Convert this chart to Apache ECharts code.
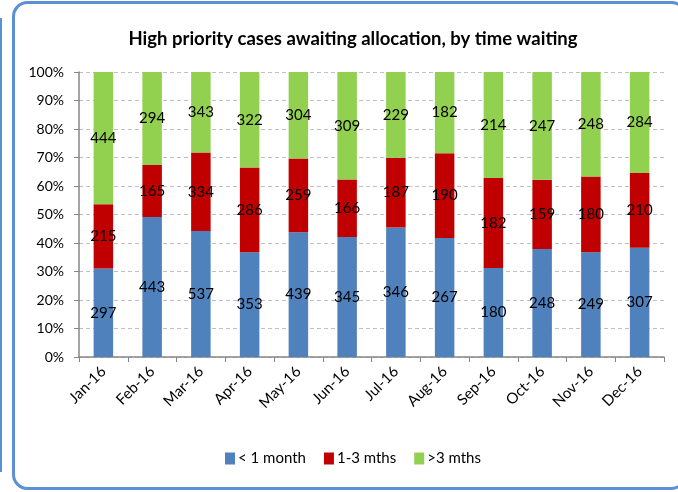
<!DOCTYPE html>
<html>
<head>
<meta charset="utf-8">
<script src="https://cdn.jsdelivr.net/npm/echarts@6/dist/echarts.min.js"></script>
<style>html,body{margin:0;padding:0;background:#fff;}#c{width:678px;height:492px;}</style>
</head>
<body>
<div id="c"></div>
<script>
const categories = ['Jan-16','Feb-16','Mar-16','Apr-16','May-16','Jun-16','Jul-16','Aug-16','Sep-16','Oct-16','Nov-16','Dec-16'];
const lessThan1Month = [297,443,537,353,439,345,346,267,180,248,249,307];
const oneToThreeMonths = [215,165,334,286,259,166,187,190,182,159,180,210];
const moreThan3Months = [444,294,343,322,304,309,229,182,214,247,248,284];
const seriesNames = ['< 1 month','1-3 mths','>3 mths'];
const seriesColors = ['#4F81BD','#C00000','#92D050'];
const yTicks = [0,0.1,0.2,0.3,0.4,0.5,0.6,0.7,0.8,0.9,1];

const raw = [lessThan1Month, oneToThreeMonths, moreThan3Months];
const totals = categories.map((_, i) => raw.reduce((s, a) => s + a[i], 0));
const FONT = 'Lato';

const chart = echarts.init(document.getElementById('c'), null, {renderer: 'canvas'});
chart.setOption({
  animation: false,
  backgroundColor: '#fff',
  title: {
    text: 'High priority cases awaiting allocation, by time waiting',
    left: 348, textAlign: 'center', top: 25,
    textStyle: {fontFamily: FONT, fontSize: 18.5, fontWeight: 'bold', color: '#000'}
  },
  legend: {
    bottom: 21, left: 220,
    itemWidth: 10, itemHeight: 12, itemGap: 18,
    icon: 'rect',
    textStyle: {fontFamily: FONT, fontSize: 15, color: '#000', padding: [0, 0, 0, -2]},
    data: seriesNames
  },
  grid: {left: 79, right: 14, top: 72, bottom: 135, containLabel: false},
  xAxis: {
    type: 'category', data: categories,
    axisLine: {lineStyle: {color: '#868686', width: 1.5}},
    axisTick: {show: true, length: 5, lineStyle: {color: '#868686'}},
    axisLabel: {rotate: 45, fontFamily: FONT, fontSize: 15, color: '#000', margin: 12}
  },
  yAxis: {
    type: 'value', min: 0, max: 1, interval: 0.1,
    axisLine: {show: true, lineStyle: {color: '#868686', width: 1.5}},
    axisTick: {show: true, length: 5, lineStyle: {color: '#868686'}},
    splitLine: {lineStyle: {color: '#BFBFBF', type: [4, 3]}},
    axisLabel: {fontFamily: FONT, fontSize: 14, color: '#000', margin: 15,
      formatter: v => Math.round(v * 100) + '%'}
  },
  series: raw.map((arr, k) => ({
    name: seriesNames[k], type: 'bar', stack: 'total', barWidth: '40%',
    itemStyle: {color: seriesColors[k]},
    data: arr.map((v, i) => ({value: v / totals[i], raw: v})),
    label: {show: true, position: 'inside', fontFamily: FONT, fontSize: 15, color: '#000',
      formatter: p => String(arr[p.dataIndex])}
  })),
  graphic: [
    {type: 'rect', shape: {x: 13.5, y: 2.5, width: 672, height: 486, r: 14},
      style: {fill: 'none', stroke: '#5B8FD6', lineWidth: 3}, silent: true},
    {type: 'line', shape: {x1: 1, y1: 18, x2: 1, y2: 472},
      style: {stroke: '#5B8FD6', lineWidth: 2}, silent: true}
  ]
});
</script>
</body>
</html>
